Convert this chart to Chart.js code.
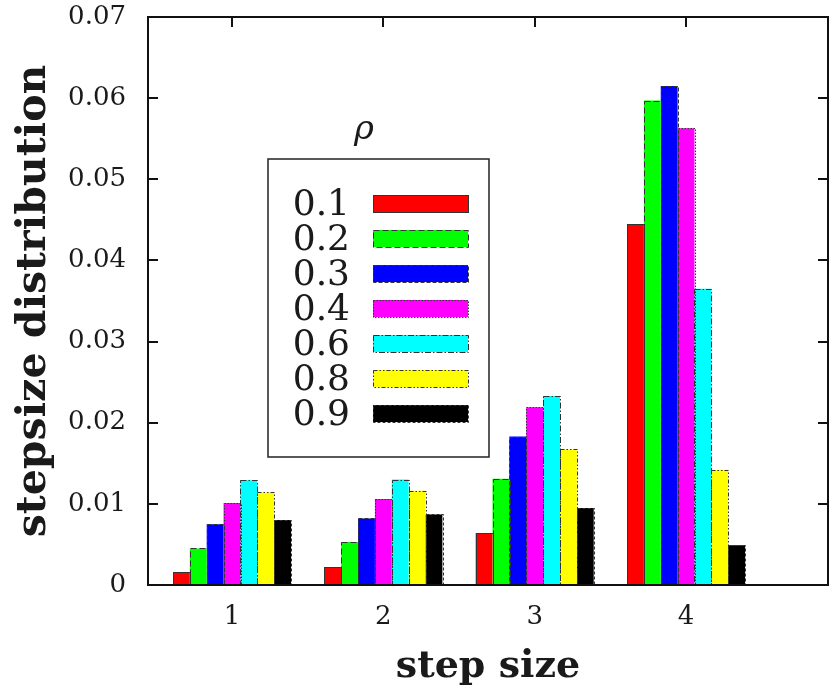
<!DOCTYPE html>
<html>
<head>
<meta charset="utf-8">
<script src="https://cdn.jsdelivr.net/npm/chart.js@4.4.0/dist/chart.umd.min.js"></script>
<style>
  html, body { margin: 0; padding: 0; background: #fff; }
  canvas { display: block; }
</style>
</head>
<body>
<canvas id="chart" width="830" height="694"></canvas>
<script>
// step sizes on the x axis and tick labels
const steps = [1, 2, 3, 4];
const xTickLabels = ['1', '2', '3', '4'];
const yTicks = [0, 0.01, 0.02, 0.03, 0.04, 0.05, 0.06, 0.07];
const yTickLabels = ['0', '0.01', '0.02', '0.03', '0.04', '0.05', '0.06', '0.07'];

// stepsize distribution for each rho
const rhoLabels = ['0.1', '0.2', '0.3', '0.4', '0.6', '0.8', '0.9'];
const rho01 = [0.0016, 0.0022, 0.0064, 0.0445];
const rho02 = [0.0045, 0.0053, 0.0131, 0.0597];
const rho03 = [0.0075, 0.0082, 0.0183, 0.0615];
const rho04 = [0.0101, 0.0106, 0.0219, 0.0563];
const rho06 = [0.0129, 0.0130, 0.0233, 0.0365];
const rho08 = [0.0114, 0.0116, 0.0167, 0.0142];
const rho09 = [0.0080, 0.0087, 0.0095, 0.0049];
const series = [rho01, rho02, rho03, rho04, rho06, rho08, rho09];

// gnuplot-ish fills and outline dash patterns
const colors = ['#ff0000', '#00ff00', '#0000ff', '#ff00ff', '#00ffff', '#ffff00', '#000000'];
const dashes = [[], [6, 3], [4, 2], [1.5, 1.5], [6, 2, 1.5, 2], [4, 2, 1.5, 2, 1.5, 2], [3, 2]];

const serif = '"DejaVu Serif", "Liberation Serif", serif';
const ink = '#1a1a1a';

// legend placement inside the plot
const key = { left: 268, top: 159, right: 489, bottom: 457, textRight: 350,
              swLeft: 373, swRight: 468, swHeight: 17, firstRow: 203, rowStep: 35,
              titleX: 364, titleY: 139 };

const plotFrame = {
    id: 'plotFrame',
    beforeDatasetsDraw(chart) {
        // inward tick marks, drawn under the bars like gnuplot does
        const ctx = chart.ctx;
        const { left, right, top } = chart.chartArea;
        const xs = chart.scales.x, ys = chart.scales.y;
        ctx.save();
        ctx.lineWidth = 2;
        ctx.strokeStyle = '#111';
        ctx.beginPath();
        yTicks.forEach(v => {
            const py = Math.round(ys.getPixelForValue(v));
            ctx.moveTo(left, py); ctx.lineTo(left + 10, py);
            ctx.moveTo(right, py); ctx.lineTo(right - 10, py);
        });
        steps.forEach(v => {
            const px = Math.round(xs.getPixelForValue(v));
            ctx.moveTo(px, top); ctx.lineTo(px, top + 10);
        });
        ctx.stroke();
        ctx.restore();
    },
    afterDatasetsDraw(chart) {
        const ctx = chart.ctx;
        const { left, right, top, bottom } = chart.chartArea;
        ctx.save();

        // dashed bar outlines
        ctx.lineWidth = 1;
        ctx.strokeStyle = '#333';
        chart.data.datasets.forEach((ds, i) => {
            ctx.setLineDash(dashes[i]);
            chart.getDatasetMeta(i).data.forEach(bar => {
                const p = bar.getProps(['x', 'y', 'base', 'width'], true);
                ctx.strokeRect(Math.round(p.x - p.width / 2) + 0.5, Math.round(p.y) + 0.5,
                               Math.round(p.width), Math.round(p.base - p.y));
            });
        });
        ctx.setLineDash([]);

        // plot border
        ctx.lineWidth = 2;
        ctx.strokeStyle = '#111';
        ctx.strokeRect(left, top, right - left, bottom - top);

        // legend
        ctx.lineWidth = 1.5;
        ctx.strokeStyle = '#222';
        ctx.strokeRect(key.left, key.top, key.right - key.left, key.bottom - key.top);
        ctx.fillStyle = ink;
        ctx.textAlign = 'center';
        ctx.textBaseline = 'alphabetic';
        ctx.font = 'italic 34px ' + serif;
        ctx.fillText('ρ', key.titleX, key.titleY);
        ctx.font = '36px ' + serif;
        ctx.textAlign = 'right';
        rhoLabels.forEach((lab, i) => {
            const cy = key.firstRow + i * key.rowStep;
            ctx.fillStyle = ink;
            ctx.fillText(lab, key.textRight, cy + 12);
            ctx.fillStyle = colors[i];
            const y0 = Math.round(cy - key.swHeight / 2);
            ctx.fillRect(key.swLeft, y0, key.swRight - key.swLeft, key.swHeight);
            ctx.lineWidth = 1;
            ctx.strokeStyle = '#333';
            ctx.setLineDash(dashes[i]);
            ctx.strokeRect(key.swLeft + 0.5, y0 + 0.5, key.swRight - key.swLeft, key.swHeight);
            ctx.setLineDash([]);
        });
        ctx.restore();
    }
};

new Chart(document.getElementById('chart'), {
    type: 'bar',
    data: {
        datasets: series.map((vals, i) => ({
            label: rhoLabels[i],
            data: steps.map((s, k) => ({ x: s, y: vals[k] })),
            backgroundColor: colors[i],
            borderWidth: 0,
            categoryPercentage: 0.78,
            barPercentage: 1.0
        }))
    },
    options: {
        responsive: false,
        animation: false,
        layout: { padding: { left: 0, right: 2, top: 17, bottom: 0 } },
        plugins: { legend: { display: false }, tooltip: { enabled: false } },
        scales: {
            x: {
                type: 'linear',
                min: 0.445,
                max: 4.938,
                offset: false,
                grid: { display: false, drawTicks: false, offset: false },
                border: { display: false },
                afterBuildTicks: scale => { scale.ticks = steps.map(v => ({ value: v })); },
                afterFit: scale => {
                    scale.height = 109;
                    scale.paddingLeft = 0;
                    scale.paddingRight = 0;
                },
                ticks: {
                    padding: 17,
                    color: ink,
                    font: { family: serif, size: 26 },
                    callback: (v, i) => xTickLabels[i]
                },
                title: {
                    display: true,
                    text: 'step size',
                    color: ink,
                    padding: { top: 0, bottom: 4 },
                    font: { family: serif, size: 38, weight: 'bold' }
                }
            },
            y: {
                min: 0,
                max: 0.07,
                grid: { display: false, drawTicks: false },
                border: { display: false },
                afterBuildTicks: scale => { scale.ticks = yTicks.map(v => ({ value: v })); },
                afterFit: scale => {
                    scale.width = 148;
                    scale.paddingTop = 0;
                    scale.paddingBottom = 0;
                },
                ticks: {
                    padding: 22,
                    color: ink,
                    font: { family: serif, size: 26 },
                    callback: (v, i) => yTickLabels[i]
                },
                title: {
                    display: true,
                    text: 'stepsize distribution',
                    color: ink,
                    padding: { top: 10, bottom: 0 },
                    font: { family: serif, size: 41, weight: 'bold' }
                }
            }
        }
    },
    plugins: [plotFrame]
});
</script>
</body>
</html>
